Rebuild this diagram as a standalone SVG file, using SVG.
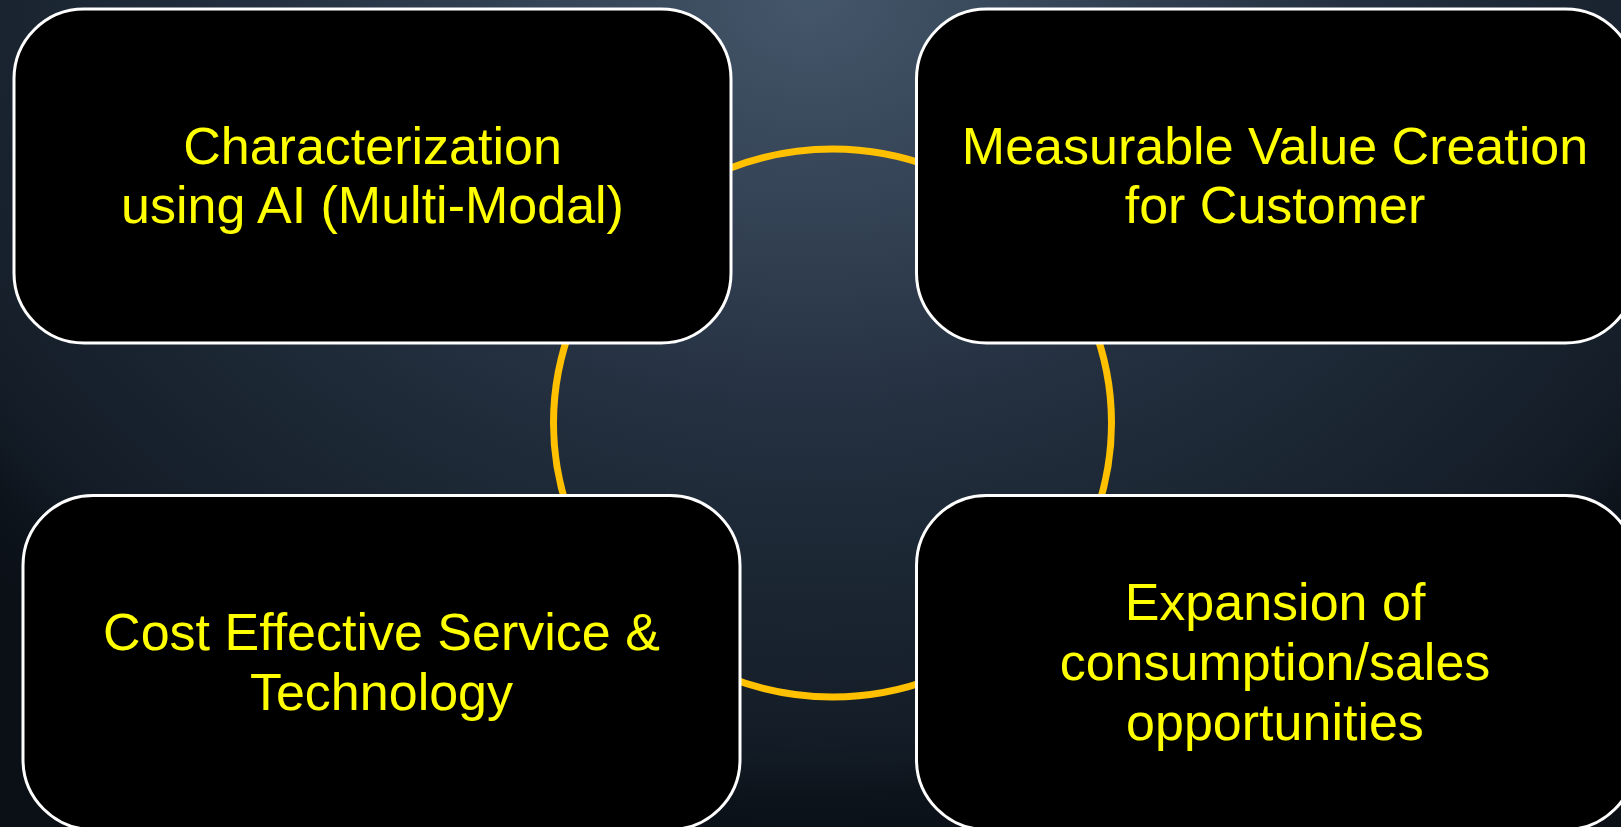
<svg xmlns="http://www.w3.org/2000/svg" width="1621" height="827" viewBox="0 0 1621 827">
  <defs>
    <radialGradient id="bg" gradientUnits="userSpaceOnUse" cx="810" cy="0" r="850" gradientTransform="translate(810 0) scale(1.3 1) translate(-810 0)">
      <stop offset="0" stop-color="#44566a"/>
      <stop offset="0.49" stop-color="#243040"/>
      <stop offset="0.877" stop-color="#131c26"/>
      <stop offset="0.94" stop-color="#0d131b"/>
      <stop offset="1" stop-color="#0b1017"/>
    </radialGradient>
    <style>
      .box { fill: #000000; stroke: #ffffff; stroke-width: 3; }
      .lbl { font-family: "Liberation Sans", Arial, sans-serif; font-size: 52px; fill: #ffff00; text-anchor: middle; }
      .ring { fill: none; stroke: #ffc000; stroke-width: 7; }
    </style>
  </defs>
  <rect x="0" y="0" width="1621" height="827" fill="url(#bg)"/>
  <g id="connectors">
    <ellipse class="ring" cx="832.5" cy="423" rx="279" ry="274"/>
  </g>
  <g id="node-characterization">
    <rect class="box" x="14" y="9" width="717" height="334" rx="70" ry="70"/>
    <text class="lbl" x="372.5" y="164">Characterization</text>
    <text class="lbl" x="372.5" y="223">using AI (Multi-Modal)</text>
  </g>
  <g id="node-value">
    <rect class="box" x="916.5" y="9" width="719" height="334" rx="70" ry="70"/>
    <text class="lbl" x="1275" y="164">Measurable Value Creation</text>
    <text class="lbl" x="1275" y="223">for Customer</text>
  </g>
  <g id="node-cost">
    <rect class="box" x="23" y="495.5" width="717" height="334" rx="70" ry="70"/>
    <text class="lbl" x="381.5" y="650">Cost Effective Service &amp;</text>
    <text class="lbl" x="381.5" y="710">Technology</text>
  </g>
  <g id="node-expansion">
    <rect class="box" x="916.5" y="495.5" width="719" height="334" rx="70" ry="70"/>
    <text class="lbl" x="1275" y="620">Expansion of</text>
    <text class="lbl" x="1275" y="680">consumption/sales</text>
    <text class="lbl" x="1275" y="740">opportunities</text>
  </g>
</svg>
